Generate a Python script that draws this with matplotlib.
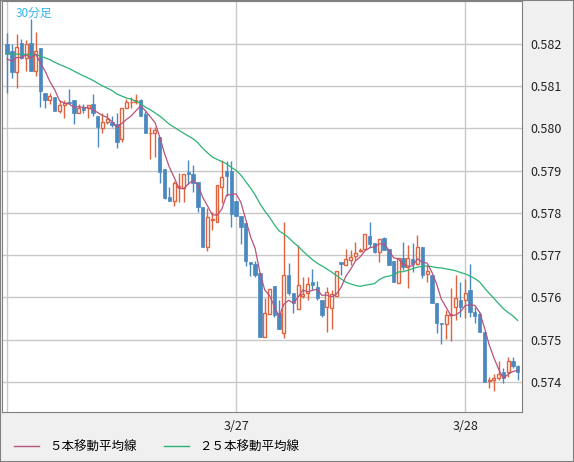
import numpy as np
import pandas as pd
import matplotlib
matplotlib.use('Agg')
import matplotlib.pyplot as plt
from matplotlib.lines import Line2D

plt.rcParams['font.family'] = ['Noto Sans CJK JP', 'DejaVu Sans']

# 30-minute OHLC candles
opens = [0.58200, 0.58183, 0.58134, 0.58202, 0.58167, 0.58202, 0.58136, 0.58191, 0.58084, 0.58068,
         0.58073, 0.58040, 0.58054, 0.58061, 0.58068, 0.58035, 0.58050, 0.58047, 0.58058, 0.58028,
         0.58000, 0.58014, 0.58014, 0.58009, 0.57974, 0.58047, 0.58061, 0.58063, 0.58068, 0.58033,
         0.57988, 0.57990, 0.57980, 0.57903, 0.57837, 0.57827, 0.57860, 0.57858, 0.57896, 0.57891,
         0.57872, 0.57813, 0.57719, 0.57783, 0.57778, 0.57860, 0.57898, 0.57898, 0.57827, 0.57792,
         0.57775, 0.57683, 0.57678, 0.57657, 0.57506, 0.57560, 0.57627, 0.57563, 0.57516, 0.57653,
         0.57610, 0.57572, 0.57603, 0.57610, 0.57636, 0.57624, 0.57594, 0.57577, 0.57575, 0.57603,
         0.57683, 0.57676, 0.57688, 0.57697, 0.57709, 0.57714, 0.57745, 0.57728, 0.57707, 0.57740,
         0.57714, 0.57686, 0.57634, 0.57693, 0.57671, 0.57690, 0.57680, 0.57719, 0.57655, 0.57653,
         0.57587, 0.57539, 0.57537, 0.57558, 0.57577, 0.57594, 0.57594, 0.57617, 0.57565, 0.57560,
         0.57518, 0.57402, 0.57405, 0.57409, 0.57423, 0.57423, 0.57449, 0.57437]
closes = [0.58176, 0.58132, 0.58193, 0.58167, 0.58200, 0.58136, 0.58183, 0.58087, 0.58068, 0.58077,
          0.58040, 0.58054, 0.58059, 0.58059, 0.58035, 0.58049, 0.58044, 0.58056, 0.58035, 0.58002,
          0.58014, 0.58021, 0.58007, 0.57967, 0.58047, 0.58061, 0.58063, 0.58068, 0.58028, 0.57988,
          0.57990, 0.57995, 0.57896, 0.57834, 0.57827, 0.57870, 0.57863, 0.57891, 0.57891, 0.57870,
          0.57813, 0.57719, 0.57790, 0.57785, 0.57865, 0.57884, 0.57886, 0.57797, 0.57792, 0.57766,
          0.57686, 0.57680, 0.57652, 0.57506, 0.57563, 0.57620, 0.57558, 0.57525, 0.57653, 0.57610,
          0.57587, 0.57629, 0.57608, 0.57631, 0.57629, 0.57598, 0.57558, 0.57612, 0.57608, 0.57662,
          0.57679, 0.57690, 0.57695, 0.57704, 0.57712, 0.57750, 0.57726, 0.57707, 0.57738, 0.57712,
          0.57676, 0.57636, 0.57693, 0.57671, 0.57693, 0.57680, 0.57719, 0.57653, 0.57662, 0.57587,
          0.57540, 0.57536, 0.57558, 0.57561, 0.57598, 0.57577, 0.57610, 0.57565, 0.57556, 0.57518,
          0.57400, 0.57405, 0.57409, 0.57420, 0.57409, 0.57449, 0.57437, 0.57423]
highs = [0.58226, 0.58200, 0.58224, 0.58212, 0.58209, 0.58259, 0.58228, 0.58191, 0.58084, 0.58084,
         0.58073, 0.58066, 0.58066, 0.58094, 0.58068, 0.58058, 0.58058, 0.58056, 0.58080, 0.58028,
         0.58035, 0.58035, 0.58030, 0.58035, 0.58049, 0.58070, 0.58073, 0.58080, 0.58070, 0.58042,
         0.58002, 0.58002, 0.57980, 0.57903, 0.57860, 0.57875, 0.57894, 0.57891, 0.57924, 0.57912,
         0.57872, 0.57813, 0.57811, 0.57802, 0.57865, 0.57926, 0.57922, 0.57922, 0.57827, 0.57792,
         0.57775, 0.57684, 0.57686, 0.57657, 0.57598, 0.57620, 0.57627, 0.57594, 0.57778, 0.57681,
         0.57610, 0.57723, 0.57648, 0.57648, 0.57667, 0.57638, 0.57594, 0.57624, 0.57617, 0.57662,
         0.57683, 0.57714, 0.57712, 0.57730, 0.57718, 0.57750, 0.57778, 0.57728, 0.57738, 0.57742,
         0.57714, 0.57686, 0.57693, 0.57730, 0.57723, 0.57728, 0.57747, 0.57719, 0.57676, 0.57653,
         0.57587, 0.57539, 0.57570, 0.57622, 0.57653, 0.57636, 0.57643, 0.57680, 0.57577, 0.57565,
         0.57518, 0.57412, 0.57420, 0.57449, 0.57433, 0.57460, 0.57460, 0.57440]
lows = [0.58084, 0.58118, 0.58096, 0.58165, 0.58136, 0.58136, 0.58124, 0.58051, 0.58047, 0.58058,
        0.58040, 0.58035, 0.58025, 0.58058, 0.58011, 0.58035, 0.58035, 0.58025, 0.58030, 0.57955,
        0.57988, 0.58011, 0.58004, 0.57953, 0.57967, 0.58047, 0.58047, 0.58058, 0.58028, 0.57988,
        0.57927, 0.57932, 0.57870, 0.57832, 0.57827, 0.57815, 0.57825, 0.57825, 0.57868, 0.57849,
        0.57802, 0.57719, 0.57710, 0.57760, 0.57778, 0.57823, 0.57839, 0.57766, 0.57792, 0.57726,
        0.57674, 0.57650, 0.57648, 0.57506, 0.57506, 0.57560, 0.57553, 0.57525, 0.57504, 0.57605,
        0.57563, 0.57572, 0.57598, 0.57594, 0.57617, 0.57594, 0.57553, 0.57518, 0.57525, 0.57603,
        0.57653, 0.57676, 0.57676, 0.57688, 0.57707, 0.57714, 0.57719, 0.57704, 0.57683, 0.57712,
        0.57676, 0.57636, 0.57634, 0.57664, 0.57622, 0.57660, 0.57676, 0.57646, 0.57636, 0.57587,
        0.57516, 0.57490, 0.57502, 0.57497, 0.57546, 0.57553, 0.57551, 0.57553, 0.57540, 0.57518,
        0.57400, 0.57386, 0.57379, 0.57405, 0.57398, 0.57412, 0.57433, 0.57405]
# closes before the visible window (seed for the moving averages)
prev_closes = [0.58175, 0.58182, 0.58190, 0.58186, 0.58178, 0.58172, 0.58168, 0.58175, 0.58183, 0.58190,
               0.58188, 0.58180, 0.58176, 0.58185, 0.58192, 0.58187, 0.58180, 0.58176, 0.58170, 0.58168,
               0.58160, 0.58150, 0.58165, 0.58170]

yticks = [0.574, 0.575, 0.576, 0.577, 0.578, 0.579, 0.580, 0.581, 0.582]
date_pos = [48, 96]
date_labels = ['3/27', '3/28']

up_col = '#de6440'
dn_col = '#4a88c0'
ma5_col = '#b8527f'
ma25_col = '#2bb373'

all_c = pd.Series(prev_closes + closes)
ma5 = all_c.rolling(5).mean().values[len(prev_closes):]
ma25 = all_c.rolling(25).mean().values[len(prev_closes):]

W, H = 574, 462
fig = plt.figure(figsize=(W / 100, H / 100), dpi=100, facecolor='#f0f0f0')
ax = fig.add_axes([2 / W, 1 - 412 / H, 520 / W, 411 / H])
ax.set_facecolor('white')

x = np.arange(len(closes))
for i in x:
    up = closes[i] >= opens[i]
    col = up_col if up else dn_col
    ax.vlines(i, lows[i], highs[i], color=col, lw=1, zorder=3)
    lo = min(opens[i], closes[i])
    h = max(abs(closes[i] - opens[i]), 0.000012)
    if up:
        ax.bar(i, h, 0.62, bottom=lo, facecolor='white', edgecolor=col, lw=1, zorder=4)
    else:
        ax.bar(i, h, 0.72, bottom=lo, facecolor=col, edgecolor=col, lw=0.5, zorder=4)

ax.plot(x, ma25, color=ma25_col, lw=0.9, zorder=5)
ax.plot(x, ma5, color=ma5_col, lw=0.9, zorder=5)

ax.set_xlim(-1.05, 107.9)
ax.set_ylim(0.57329, 0.58301)
ax.set_yticks(yticks)
ax.set_yticklabels(['%.3f' % v for v in yticks])
ax.yaxis.tick_right()
ax.set_xticks([-0.05] + date_pos)
ax.set_xticklabels([''] + date_labels)
ax.grid(True, color='#c8c8c8', lw=1)
ax.set_axisbelow(True)
ax.tick_params(length=0, labelsize=9, colors='#222222', pad=6)
ax.tick_params(axis='x', pad=6)
for s in ax.spines.values():
    s.set_color('#808080')

ax.text(0.027, 0.985, '30分足', transform=ax.transAxes, color='#33b5e8', fontsize=8.5, va='top')

handles = [Line2D([], [], color=ma5_col, lw=1), Line2D([], [], color=ma25_col, lw=1)]
fig.legend(handles, ['５本移動平均線', '２５本移動平均線'], loc='center left',
           bbox_to_anchor=(0.005, 1 - 447 / H), ncol=2, frameon=False, fontsize=9,
           handlelength=2, columnspacing=2.2, handletextpad=0.8)
fig.add_artist(plt.Rectangle((0, 0), 1, 1, transform=fig.transFigure, fill=False,
                             edgecolor='#808080', lw=1.5))

fig.savefig('out.png', dpi=100, facecolor=fig.get_facecolor())
